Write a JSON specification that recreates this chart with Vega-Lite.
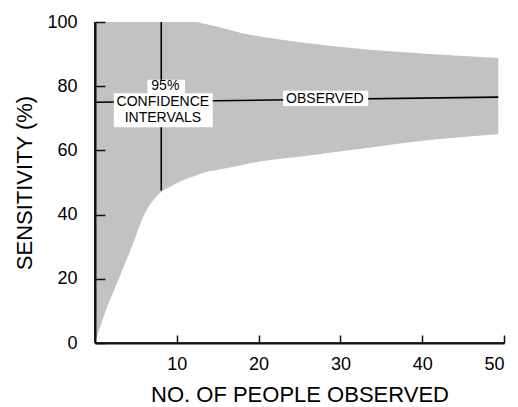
{
  "$schema": "https://vega.github.io/schema/vega-lite/v6.json",
  "width": 409,
  "height": 321,
  "autosize": {"type": "none"},
  "padding": {"left": 95, "top": 22, "right": 14, "bottom": 64},
  "background": "white",
  "config": {
    "view": {"stroke": null}
  },
  "datasets": {
    "band": [
      {"n": 0, "lo": 0, "hi": 100},
      {"n": 1.2, "lo": 9.3, "hi": 100},
      {"n": 2.85, "lo": 19.6, "hi": 100},
      {"n": 4.5, "lo": 30, "hi": 100},
      {"n": 6.1, "lo": 40.4, "hi": 100},
      {"n": 7.3, "lo": 45, "hi": 100},
      {"n": 8.3, "lo": 47.5, "hi": 100},
      {"n": 9.2, "lo": 48.7, "hi": 100},
      {"n": 11, "lo": 51, "hi": 100},
      {"n": 12.4, "lo": 52.2, "hi": 100},
      {"n": 13.2, "lo": 53, "hi": 99.5},
      {"n": 15, "lo": 54, "hi": 98.5},
      {"n": 17.3, "lo": 55.1, "hi": 97},
      {"n": 19, "lo": 56, "hi": 96},
      {"n": 21.4, "lo": 57, "hi": 95},
      {"n": 25.5, "lo": 58.2, "hi": 93.5},
      {"n": 28.7, "lo": 59.3, "hi": 92.6},
      {"n": 34, "lo": 61, "hi": 91.3},
      {"n": 40, "lo": 63, "hi": 90.2},
      {"n": 45, "lo": 64.2, "hi": 89.4},
      {"n": 49.3, "lo": 65, "hi": 88.8}
    ],
    "lines": [
      {"x1": 0, "y1": 75, "x2": 49.3, "y2": 76.6},
      {"x1": 8.1, "y1": 47.5, "x2": 8.1, "y2": 100},
      {"x1": 0, "y1": 0, "x2": 0, "y2": 100},
      {"x1": 0, "y1": 0, "x2": 50, "y2": 0}
    ],
    "boxes": [
      {"x1": 23, "x2": 33.4, "y1": 73.8, "y2": 78.6},
      {"x1": 6.4, "x2": 11, "y1": 77.6, "y2": 82},
      {"x1": 2.3, "x2": 14.4, "y1": 67.2, "y2": 77.8}
    ],
    "labels": [
      {"tx": 28.1, "ty": 76, "label": "OBSERVED"},
      {"tx": 8.6, "ty": 80, "label": "95%"},
      {"tx": 8.3, "ty": 75, "label": "CONFIDENCE"},
      {"tx": 8.3, "ty": 70, "label": "INTERVALS"}
    ]
  },
  "layer": [
    {
      "data": {"name": "band"},
      "mark": {"type": "area", "color": "#c2c2c2", "opacity": 1, "interpolate": "monotone"},
      "encoding": {
        "x": {"field": "n", "type": "quantitative", "scale": {"domain": [0, 50], "nice": false},
          "axis": {"values": [10, 20, 30, 40, 50], "gridOpacity": 0, "zindex": 1, "domain": true, "domainColor": "#111111", "domainWidth": 2, "ticks": true, "tickColor": "#111111", "tickWidth": 1.5, "tickSize": -8, "labelPadding": 20, "labelFont": "Liberation Sans", "labelColor": "black", "labelFontSize": 18, "title": "NO. OF PEOPLE OBSERVED", "titleFont": "Liberation Sans", "titleFontWeight": "normal", "titleColor": "black", "titleFontSize": 22, "titlePadding": 11}},
        "y": {"field": "lo", "type": "quantitative", "scale": {"domain": [0, 100], "nice": false},
          "axis": {"values": [0, 10, 20, 30, 40, 50, 60, 70, 80, 90, 100], "gridOpacity": 0, "zindex": 1, "domain": true, "domainColor": "#111111", "domainWidth": 2, "ticks": true, "tickColor": "#111111", "tickWidth": 1.5, "tickSize": -10, "labelPadding": 28, "labelFont": "Liberation Sans", "labelColor": "black", "labelFontSize": 18, "labelExpr": "datum.value % 20 == 0 ? datum.label : ''", "title": "SENSITIVITY (%)", "titleFont": "Liberation Sans", "titleFontWeight": "normal", "titleColor": "black", "titleFontSize": 22, "titlePadding": 10}},
        "y2": {"field": "hi"}
      }
    },
    {
      "data": {"name": "lines"},
      "mark": {"type": "rule", "color": "black", "strokeWidth": 1.6},
      "encoding": {
        "x": {"field": "x1", "type": "quantitative"},
        "x2": {"field": "x2"},
        "y": {"field": "y1", "type": "quantitative"},
        "y2": {"field": "y2"}
      }
    },
    {
      "data": {"name": "boxes"},
      "mark": {"type": "rect", "color": "white", "opacity": 1},
      "encoding": {
        "x": {"field": "x1", "type": "quantitative"},
        "x2": {"field": "x2"},
        "y": {"field": "y1", "type": "quantitative"},
        "y2": {"field": "y2"}
      }
    },
    {
      "data": {"name": "labels"},
      "mark": {"type": "text", "color": "black", "fontSize": 14, "font": "Liberation Sans", "align": "center", "baseline": "middle"},
      "encoding": {
        "x": {"field": "tx", "type": "quantitative"},
        "y": {"field": "ty", "type": "quantitative"},
        "text": {"field": "label"}
      }
    }
  ]
}
